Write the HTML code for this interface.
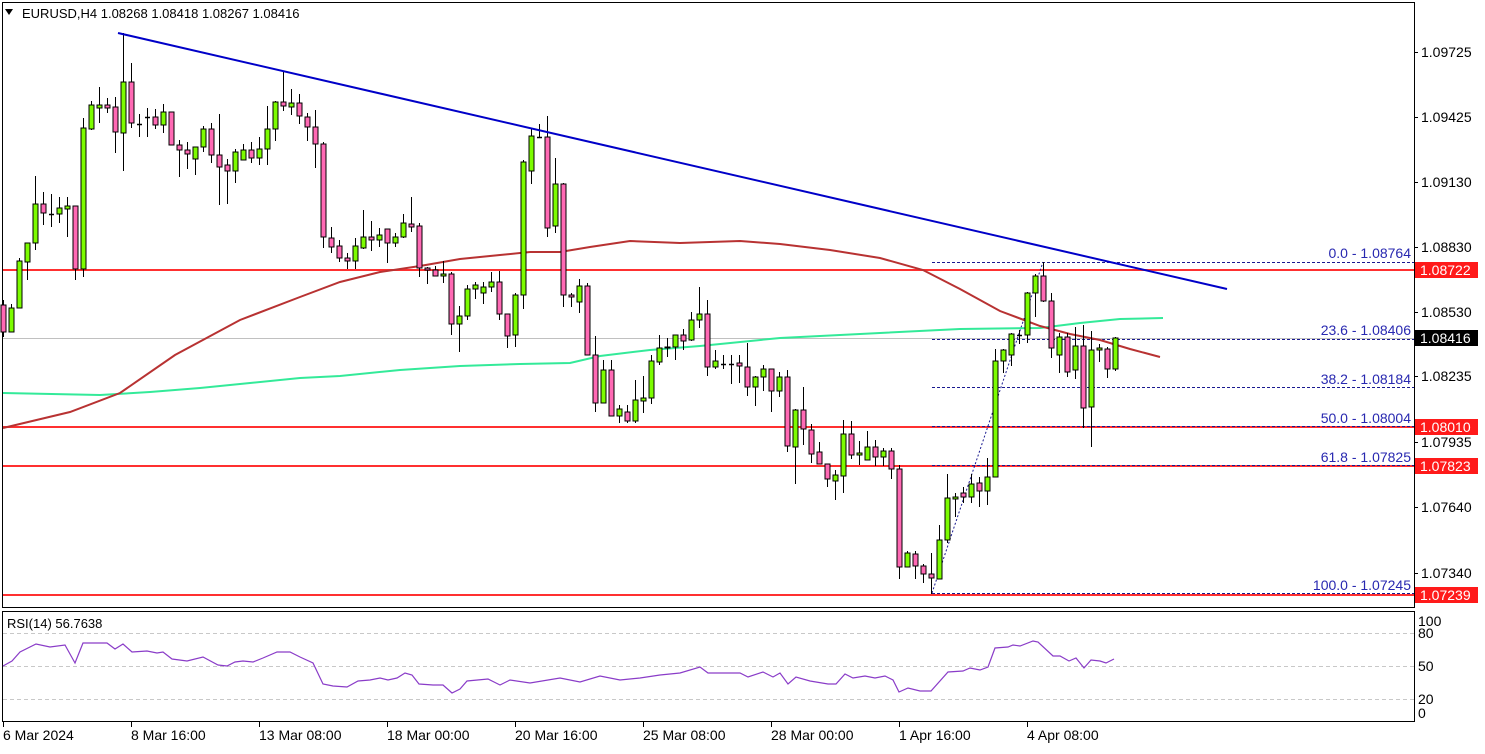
<!DOCTYPE html>
<html><head><meta charset="utf-8"><style>
html,body{margin:0;padding:0;background:#fff;}
body{width:1485px;height:749px;overflow:hidden;font-family:"Liberation Sans",sans-serif;}
svg text{font-family:"Liberation Sans",sans-serif;}
</style></head><body>
<svg id="s" width="1485" height="749" xmlns="http://www.w3.org/2000/svg">
<rect x="0" y="0" width="1485" height="749" fill="#fff"/>
<rect x="2.5" y="2.5" width="1412" height="605" fill="none" stroke="#000" stroke-width="1"/>
<rect x="2.5" y="611.5" width="1412" height="110" fill="none" stroke="#000" stroke-width="1"/>
<line x1="3" y1="338.5" x2="1414" y2="338.5" stroke="#c0c0c0" stroke-width="1"/>
<g stroke="#ff3030" stroke-width="2">
<line x1="3" y1="270" x2="1414" y2="270"/>
<line x1="3" y1="427" x2="1414" y2="427"/>
<line x1="3" y1="466" x2="1414" y2="466"/>
<line x1="3" y1="595" x2="1414" y2="595"/>
</g>
<g stroke="#1a1a90" stroke-width="1" stroke-dasharray="3,2">
<line x1="932" y1="262.5" x2="1414" y2="262.5"/>
<line x1="932" y1="339.5" x2="1414" y2="339.5"/>
<line x1="932" y1="387.5" x2="1414" y2="387.5"/>
<line x1="932" y1="426.5" x2="1414" y2="426.5"/>
<line x1="932" y1="465.5" x2="1414" y2="465.5"/>
<line x1="932" y1="593.5" x2="1414" y2="593.5"/>
<line x1="932" y1="593" x2="1043" y2="262" stroke-dasharray="2,2"/>
</g>
<g fill="#2828b0" font-size="14" text-anchor="end">
<text x="1411" y="258">0.0 - 1.08764</text>
<text x="1411" y="335">23.6 - 1.08406</text>
<text x="1411" y="384">38.2 - 1.08184</text>
<text x="1411" y="423">50.0 - 1.08004</text>
<text x="1411" y="462">61.8 - 1.07825</text>
<text x="1411" y="590">100.0 - 1.07245</text>
</g>
<polyline fill="none" stroke="#33ea99" stroke-width="2" points="3,393 100,395 150,392 200,388 250,383 300,378 340,376 400,370 460,366 520,364 570,363 600,356 650,350 700,346 780,338 880,333 960,329 1040,328 1080,323 1120,319 1163,318"/>
<polyline fill="none" stroke="#b83232" stroke-width="2" points="3,428 70,412 120,393 175,355 240,320 300,297 340,282 380,272 420,266 460,259 500,255 530,252 560,252 590,247 630,241 680,243 740,241 780,244 830,250 880,258 923,270 960,289 1000,311 1040,326 1070,334 1100,340 1130,349 1160,357"/>
<g id="candles"></g>
<line x1="118" y1="33" x2="1227" y2="289" stroke="#0000c8" stroke-width="2"/>
<g stroke="#000" stroke-width="1">
<line x1="1414" y1="52.5" x2="1418" y2="52.5"/><line x1="1414" y1="117.5" x2="1418" y2="117.5"/>
<line x1="1414" y1="182.5" x2="1418" y2="182.5"/><line x1="1414" y1="247.5" x2="1418" y2="247.5"/>
<line x1="1414" y1="312.5" x2="1418" y2="312.5"/><line x1="1414" y1="376.5" x2="1418" y2="376.5"/>
<line x1="1414" y1="442.5" x2="1418" y2="442.5"/><line x1="1414" y1="507.5" x2="1418" y2="507.5"/>
<line x1="1414" y1="573.5" x2="1418" y2="573.5"/>
</g>
<g font-size="14" fill="#000">
<text x="1421" y="57">1.09725</text><text x="1421" y="122">1.09425</text>
<text x="1421" y="187">1.09130</text><text x="1421" y="252">1.08830</text>
<text x="1421" y="317">1.08530</text><text x="1421" y="381">1.08235</text>
<text x="1421" y="447">1.07935</text><text x="1421" y="512">1.07640</text>
<text x="1421" y="578">1.07340</text>
</g>
<g>
<rect x="1415" y="262" width="63" height="16" fill="#ff1a1a"/>
<rect x="1415" y="330" width="63" height="16" fill="#000"/>
<rect x="1415" y="419" width="63" height="16" fill="#ff1a1a"/>
<rect x="1415" y="458" width="63" height="16" fill="#ff1a1a"/>
<rect x="1415" y="587" width="63" height="16" fill="#ff1a1a"/>
</g>
<g font-size="14" fill="#fff">
<text x="1420" y="275">1.08722</text><text x="1420" y="343">1.08416</text>
<text x="1420" y="432">1.08010</text><text x="1420" y="471">1.07823</text>
<text x="1420" y="600">1.07239</text>
</g>
<polygon points="5,9 13,9 9,15" fill="#000"/>
<text x="22" y="18" font-size="13" fill="#000">EURUSD,H4  1.08268 1.08418 1.08267 1.08416</text>
<g stroke="#c8c8c8" stroke-dasharray="4,3"><line x1="3" y1="633.5" x2="1414" y2="633.5"/><line x1="3" y1="666.5" x2="1414" y2="666.5"/><line x1="3" y1="699.5" x2="1414" y2="699.5"/></g>
<text x="7" y="628" font-size="13" fill="#000">RSI(14) 56.7638</text>
<polyline fill="none" stroke="#8a3cc8" stroke-width="1.2" points="3,666 12,661 20,652 36,644 50,647 65,645 75,663 83,643 107,643 115,649 123,644 132,652 147,651 157,653 163,652 172,659 187,661 203,657 218,665 227,666 235,662 243,661 253,662 263,658 277,652 290,652 300,657 313,663 323,684 333,686 347,687 358,681 370,680 380,678 388,680 397,678 405,673 412,675 419,684 433,685 443,685 452,693 460,689 467,681 488,679 500,685 510,680 530,683 560,678 580,682 600,676 620,680 640,678 660,675 680,673 700,667 708,673 740,673 748,677 763,672 773,677 780,673 788,684 796,677 810,681 828,684 836,684 845,674 853,678 865,676 875,678 885,676 893,680 899,692 908,688 920,691 931,691 948,672 963,671 970,668 980,670 988,667 995,648 1008,647 1013,645 1020,646 1033,641 1038,642 1053,656 1060,656 1069,661 1076,658 1084,668 1091,660 1100,661 1106,663 1114,659"/>
<g font-size="14" fill="#000">
<text x="1418" y="626">100</text><text x="1418" y="638">80</text><text x="1418" y="671">50</text><text x="1418" y="704">20</text><text x="1418" y="718">0</text>
</g>
<g stroke="#000"><line x1="3.5" y1="722" x2="3.5" y2="727"/><line x1="131.5" y1="722" x2="131.5" y2="727"/><line x1="259.5" y1="722" x2="259.5" y2="727"/><line x1="387.5" y1="722" x2="387.5" y2="727"/><line x1="515.5" y1="722" x2="515.5" y2="727"/><line x1="643.5" y1="722" x2="643.5" y2="727"/><line x1="771.5" y1="722" x2="771.5" y2="727"/><line x1="899.5" y1="722" x2="899.5" y2="727"/><line x1="1027.5" y1="722" x2="1027.5" y2="727"/></g>
<g font-size="14" fill="#000">
<text x="3" y="740">6 Mar 2024</text><text x="131" y="740">8 Mar 16:00</text><text x="259" y="740">13 Mar 08:00</text><text x="387" y="740">18 Mar 00:00</text><text x="515" y="740">20 Mar 16:00</text><text x="643" y="740">25 Mar 08:00</text><text x="771" y="740">28 Mar 00:00</text><text x="899" y="740">1 Apr 16:00</text><text x="1027" y="740">4 Apr 08:00</text>
</g>
</svg>
<script>
var d=[[305,332,300,337,0],[308,332,304,332,1],[261,308,258,308,1],[243,262,243,280,1],[204,243,176,250,1],[204,213,192,225,0],[214,214,194,227,0],[208,214,197,223,1],[206,209,197,237,1],[206,269,206,280,0],[128,269,118,277,1],[105,129,101,130,1],[105,108,87,123,1],[105,108,98,113,0],[107,132,97,153,0],[82,133,33,171,1],[82,123,63,128,0],[124,124,114,137,0],[117,117,108,137,0],[117,125,109,129,0],[112,125,104,133,1],[112,145,112,145,0],[145,150,140,177,0],[150,154,142,169,0],[147,159,147,175,1],[129,147,126,152,1],[129,155,123,163,0],[155,167,114,205,0],[165,171,159,204,0],[152,171,149,183,1],[150,160,144,160,1],[150,158,142,163,0],[149,158,137,165,1],[129,149,106,165,1],[102,129,101,141,1],[102,106,72,111,0],[103,107,89,115,1],[103,116,94,124,0],[117,127,113,141,0],[127,144,110,168,0],[144,237,142,248,0],[238,247,227,253,0],[246,258,240,262,0],[258,261,253,269,0],[246,261,238,269,1],
[237,248,210,249,1],[237,240,221,251,0],[235,240,228,247,1],[229,243,229,263,0],[237,243,233,247,1],[223,237,214,238,1],[224,227,197,232,0],[226,268,223,277,0],[268,270,267,284,0],[270,276,266,276,0],[274,276,261,283,1],[274,324,272,335,0],[316,324,306,352,1],[289,316,285,320,1],[285,289,282,299,1],[287,293,282,304,1],[282,287,272,292,1],[282,314,271,320,0],[314,336,314,348,0],[295,335,293,347,1],[162,295,160,309,1],[136,171,128,184,1],[137,137,124,138,0],[137,228,116,237,0],[184,226,158,233,1],[184,295,183,307,0],[295,297,293,307,0],[286,302,279,313,1],[286,355,283,355,0],[355,403,336,412,0],[370,403,360,403,1],[370,416,360,416,0],[409,416,405,423,1],[412,421,405,423,0],[400,421,380,423,1],[398,401,376,413,1],[361,398,355,404,1],[348,362,335,365,1],[347,348,338,357,1],[335,347,335,360,1],[335,341,329,350,0],[320,340,312,341,1],[314,320,287,328,1],
[314,367,300,376,0],[361,367,350,369,1],[364,364,355,369,0],[364,364,355,384,0],[363,366,355,383,0],[367,387,343,396,0],[377,387,376,406,1],[369,377,365,391,1],[369,391,369,412,0],[377,391,372,397,1],[377,446,370,452,0],[410,447,409,484,1],[410,429,387,445,0],[430,454,424,463,0],[452,464,442,464,0],[464,479,464,487,0],[475,481,470,500,1],[434,476,420,493,1],[434,455,421,459,0],[453,455,441,465,1],[447,460,431,460,1],[447,457,440,466,0],[451,457,448,466,1],[451,469,448,479,0],[469,567,465,579,0],[553,567,551,567,1],[554,566,551,579,0],[566,574,564,583,0],[574,578,553,594,0],[540,579,525,579,1],[498,540,474,543,1],[497,499,493,517,1],[493,497,487,503,0],[484,497,474,503,1],[483,491,477,507,0],[477,491,458,505,1],[361,477,349,477,1],[350,361,349,373,1],[334,355,333,366,1],
[335,335,330,344,1],[293,335,292,343,1],[276,293,274,317,1],[276,301,262,302,0],[301,348,293,358,0],[337,355,333,373,1],[337,372,333,377,0],[346,370,327,379,1],[346,408,325,428,0],[350,407,331,447,1],[348,350,344,362,1],[349,369,347,378,0],[338,369,337,371,1]];
var h='';
for(var i=0;i<d.length;i++){var c=d[i],x=3+8*i;
h+='<line x1="'+(x+0.5)+'" y1="'+c[2]+'" x2="'+(x+0.5)+'" y2="'+c[3]+'" stroke="#000" stroke-width="1"/>';
var ht=c[1]-c[0];
if(ht<1){h+='<line x1="'+(x-2)+'" y1="'+(c[0]+0.5)+'" x2="'+(x+3)+'" y2="'+(c[0]+0.5)+'" stroke="#000" stroke-width="1.5"/>';}
else h+='<rect x="'+(x-2)+'" y="'+c[0]+'" width="5" height="'+ht+'" fill="'+(c[4]?'#7cfc00':'#ff69b4')+'" stroke="#000" stroke-width="1"/>';}
document.getElementById('candles').innerHTML=h;
</script>
</body></html>
